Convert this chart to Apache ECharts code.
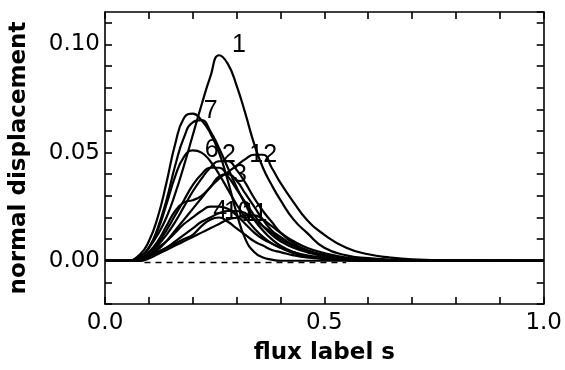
<!DOCTYPE html>
<html><head><meta charset="utf-8">
<script src="https://cdn.jsdelivr.net/npm/echarts@6/dist/echarts.min.js"></script>
<style>html,body{margin:0;padding:0;background:#fff}#c{width:565px;height:370px}</style>
</head><body><div id="c"></div>
<script>
// flux label s sample positions
var sGrid = [0, 0.05, 0.08, 0.1, 0.12, 0.14, 0.16, 0.18, 0.2, 0.22, 0.24, 0.26, 0.28, 0.3, 0.32, 0.34, 0.36, 0.38, 0.4, 0.43, 0.46, 0.5, 0.55, 0.6, 0.65, 0.7, 0.8, 1.0];
// normal displacement per curve
var c1  = [0,0,0.002,0.006,0.012,0.020,0.031,0.044,0.058,0.072,0.085,0.095,0.091,0.081,0.068,0.054,0.043,0.035,0.028,0.019,0.013,0.006,0.0025,0.0012,0.0005,0.0002,0,0];
var c2  = [0,0,0.001,0.003,0.007,0.012,0.018,0.025,0.032,0.038,0.043,0.046,0.046,0.042,0.036,0.029,0.023,0.018,0.013,0.008,0.005,0.0025,0.001,0.0004,0,0,0,0];
var c3  = [0,0,0.001,0.004,0.009,0.016,0.023,0.027,0.028,0.030,0.034,0.039,0.040,0.037,0.031,0.025,0.019,0.014,0.011,0.007,0.0045,0.0025,0.001,0.0004,0,0,0,0];
var c4  = [0,0,0.001,0.003,0.006,0.009,0.013,0.017,0.020,0.023,0.025,0.025,0.024,0.021,0.017,0.013,0.010,0.008,0.006,0.004,0.0025,0.0015,0.0006,0,0,0,0,0];
var c5  = [0,0,0.002,0.006,0.015,0.028,0.044,0.057,0.064,0.065,0.060,0.052,0.043,0.034,0.026,0.019,0.014,0.010,0.007,0.004,0.002,0.001,0.0004,0,0,0,0,0];
var c6  = [0,0,0.002,0.006,0.014,0.026,0.039,0.048,0.051,0.050,0.046,0.040,0.033,0.026,0.020,0.015,0.011,0.008,0.006,0.0035,0.002,0.001,0.0004,0,0,0,0,0];
var c7  = [0,0,0.003,0.009,0.020,0.036,0.054,0.066,0.068,0.065,0.059,0.050,0.037,0.022,0.010,0.004,0.0015,0.0005,0,0,0,0,0,0,0,0,0,0];
var c8  = [0,0,0.001,0.003,0.008,0.014,0.021,0.028,0.035,0.040,0.043,0.043,0.039,0.033,0.027,0.021,0.016,0.012,0.009,0.006,0.004,0.002,0.0008,0,0,0,0,0];
var c9  = [0,0,0.001,0.002,0.004,0.006,0.008,0.010,0.012,0.016,0.019,0.020,0.018,0.015,0.012,0.009,0.007,0.005,0.004,0.0025,0.0015,0.0008,0.0003,0,0,0,0,0];
var c10 = [0,0,0,0.002,0.004,0.006,0.009,0.012,0.015,0.018,0.020,0.022,0.023,0.023,0.022,0.019,0.016,0.013,0.010,0.007,0.0045,0.0025,0.001,0.0004,0,0,0,0];
var c11 = [0,0,0,0.001,0.003,0.005,0.007,0.009,0.011,0.013,0.015,0.017,0.019,0.020,0.021,0.021,0.019,0.016,0.013,0.009,0.006,0.0035,0.0015,0.0006,0.0002,0,0,0];
var c12 = [0,0,0,0.002,0.005,0.009,0.014,0.019,0.024,0.029,0.034,0.038,0.041,0.044,0.047,0.049,0.049,0.043,0.036,0.027,0.019,0.012,0.006,0.003,0.0015,0.0007,0.0002,0];
// dashed reference line
var dashS = [0.09, 0.55];
var dashV = [-0.0008, -0.0008];
// tick labels
var xTickLabels = {0: '0.0', 0.5: '0.5', 1: '1.0'};
var yTickLabels = {'-0': '0.00', '0': '0.00', '0.05': '0.05', '0.1': '0.10'};

var curves = [
  {name: '1', v: c1, label: true, off: [20, -10]},
  {name: '2', v: c2, label: true, off: [10, -6]},
  {name: '3', v: c3, label: true, off: [12, 1]},
  {name: '4', v: c4, label: true, off: [10, 4]},
  {name: '5', v: c5, label: false},
  {name: '6', v: c6, label: true, off: [19, 0]},
  {name: '7', v: c7, label: true, off: [18, -3]},
  {name: '8', v: c8, label: false},
  {name: '9', v: c9, label: false},
  {name: '10', v: c10, label: true, off: [10, 1]},
  {name: '11', v: c11, label: true, off: [9, -1]},
  {name: '12', v: c12, label: true, off: [9, 0]}
];
var labelFont = {fontFamily: 'Liberation Sans Narrow, Liberation Sans, Arial', fontSize: 25, color: '#000'};

var series = curves.map(function (c) {
  var data = sGrid.map(function (s, i) { return [s, c.v[i]]; });
  var mi = 0;
  c.v.forEach(function (v, i) { if (v > c.v[mi]) mi = i; });
  var sr = {
    type: 'line', name: c.name, data: data, smooth: 0.5,
    symbol: 'none', silent: true, animation: false,
    lineStyle: {color: '#000', width: 2.2}
  };
  if (c.label) {
    sr.markPoint = {
      symbol: 'circle', symbolSize: 0, silent: true, animation: false,
      data: [{coord: data[mi], label: Object.assign({show: true, formatter: c.name, position: 'inside', offset: c.off}, labelFont)}]
    };
  }
  return sr;
});
series.push({
  type: 'line', data: dashS.map(function (s, i) { return [s, dashV[i]]; }),
  symbol: 'none', silent: true, animation: false,
  lineStyle: {color: '#000', width: 1.6, type: [6, 5]}
});

var tickFont = {fontFamily: 'DejaVu Sans', fontSize: 23, color: '#000'};
var titleFont = {fontFamily: 'DejaVu Sans', fontSize: 23, fontWeight: 'bold', color: '#000'};
var line = {show: true, onZero: false, lineStyle: {color: '#000', width: 1.6}};
var tick = {inside: true, length: 7, lineStyle: {color: '#000', width: 1.6}};

function fmtY(v) { var k = String(Math.round(v * 1000) / 1000); return yTickLabels[k] || ''; }
function fmtX(v) { var k = Math.round(v * 10) / 10; return xTickLabels[k] || ''; }

var option = {
  backgroundColor: '#fff',
  grid: {left: 104, right: 21, top: 12, bottom: 64},
  xAxis: [
    {type: 'value', min: 0, max: 1, interval: 0.1, position: 'bottom',
     name: 'flux label s', nameLocation: 'middle', nameGap: 38, nameTextStyle: titleFont,
     axisLine: line, axisTick: tick,
     axisLabel: Object.assign({formatter: fmtX, margin: 8, showMinLabel: true, showMaxLabel: true}, tickFont),
     splitLine: {show: false}},
    {type: 'value', min: 0, max: 1, interval: 0.1, position: 'top',
     axisLine: line, axisTick: tick,
     axisLabel: {show: false}, splitLine: {show: false}}
  ],
  yAxis: [
    {type: 'value', min: -0.02, max: 0.115, interval: 0.01, position: 'left',
     name: 'normal displacement', nameLocation: 'middle', nameGap: 74, nameTextStyle: titleFont,
     axisLine: line, axisTick: tick,
     axisLabel: Object.assign({formatter: fmtY, margin: 5, showMaxLabel: false}, tickFont),
     splitLine: {show: false}},
    {type: 'value', min: -0.02, max: 0.115, interval: 0.01, position: 'right',
     axisLine: line, axisTick: tick,
     axisLabel: {show: false}, splitLine: {show: false}}
  ],
  series: series
};
var chart = echarts.init(document.getElementById('c'), null, {renderer: 'canvas'});
chart.setOption(option);
</script></body></html>
